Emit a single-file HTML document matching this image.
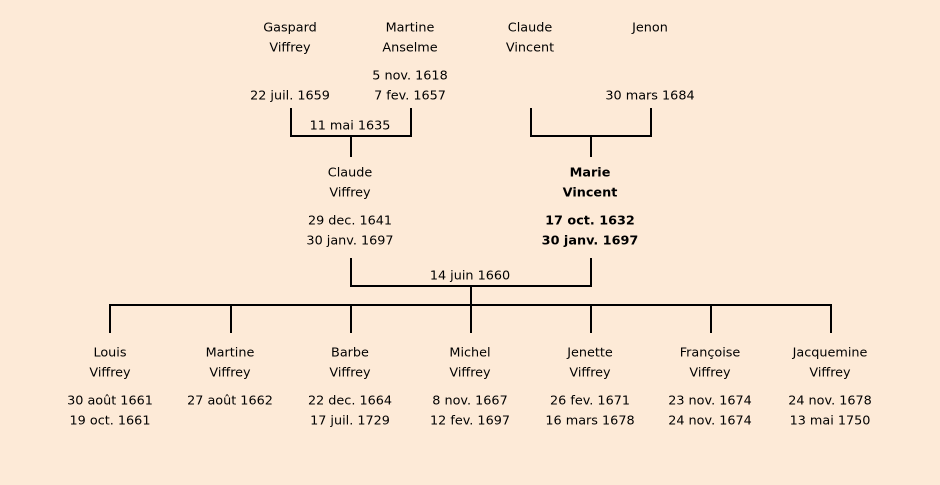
<!DOCTYPE html>
<html><head><meta charset="utf-8"><style>
html,body{margin:0;padding:0;background:#fdead7;}
svg{display:block}
text{font-family:"DejaVu Sans","Liberation Sans",sans-serif;font-size:12.8px;fill:#000;text-anchor:middle;dominant-baseline:middle}
.b{font-weight:bold}
</style></head><body>
<svg width="940" height="485" viewBox="0 0 940 485">
<rect width="940" height="485" fill="#fdead7"/>
<g stroke="#000" stroke-width="2" fill="none">
<path d="M291 108V136H411V108M351 136V157"/>
<path d="M531 108V136H651V108M591 136V157"/>
<path d="M351 258V286H591V258M471 286V305"/>
<path d="M110 333V305H831V333M231 305V333M351 305V333M471 305V333M591 305V333M711 305V333"/>
</g>
<g transform="translate(0,1)">
<text x="290" y="27">Gaspard</text><text x="290" y="47">Viffrey</text>
<text x="410" y="27">Martine</text><text x="410" y="47">Anselme</text>
<text x="530" y="27">Claude</text><text x="530" y="47">Vincent</text>
<text x="650" y="27">Jenon</text>
<text x="410" y="75">5 nov. 1618</text>
<text x="290" y="95">22 juil. 1659</text><text x="410" y="95">7 fev. 1657</text>
<text x="650" y="95">30 mars 1684</text>
<text x="350" y="125">11 mai 1635</text>
<text x="350" y="172">Claude</text><text x="350" y="192">Viffrey</text>
<text x="350" y="220">29 dec. 1641</text><text x="350" y="240">30 janv. 1697</text>
<text class="b" x="590" y="172">Marie</text><text class="b" x="590" y="192">Vincent</text>
<text class="b" x="590" y="220">17 oct. 1632</text><text class="b" x="590" y="240">30 janv. 1697</text>
<text x="470" y="275">14 juin 1660</text>
<text x="110" y="352">Louis</text><text x="110" y="372">Viffrey</text><text x="110" y="400">30 août 1661</text><text x="110" y="420">19 oct. 1661</text>
<text x="230" y="352">Martine</text><text x="230" y="372">Viffrey</text><text x="230" y="400">27 août 1662</text>
<text x="350" y="352">Barbe</text><text x="350" y="372">Viffrey</text><text x="350" y="400">22 dec. 1664</text><text x="350" y="420">17 juil. 1729</text>
<text x="470" y="352">Michel</text><text x="470" y="372">Viffrey</text><text x="470" y="400">8 nov. 1667</text><text x="470" y="420">12 fev. 1697</text>
<text x="590" y="352">Jenette</text><text x="590" y="372">Viffrey</text><text x="590" y="400">26 fev. 1671</text><text x="590" y="420">16 mars 1678</text>
<text x="710" y="352">Françoise</text><text x="710" y="372">Viffrey</text><text x="710" y="400">23 nov. 1674</text><text x="710" y="420">24 nov. 1674</text>
<text x="830" y="352">Jacquemine</text><text x="830" y="372">Viffrey</text><text x="830" y="400">24 nov. 1678</text><text x="830" y="420">13 mai 1750</text>
</g>
</svg>
</body></html>
